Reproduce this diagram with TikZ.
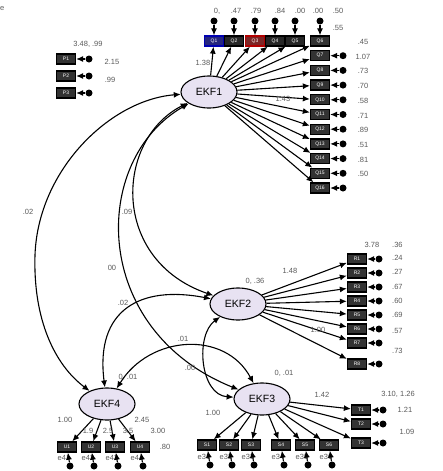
\documentclass[tikz,border=0pt]{standalone}
\usepackage{fontspec}
\setmainfont{Liberation Sans}
\usetikzlibrary{shapes.geometric,arrows.meta}
\definecolor{latentfill}{RGB}{232,226,242}
\definecolor{labgray}{RGB}{90,90,90}

\begin{document}
\begin{tikzpicture}[x=1pt,y=-1pt,
  latent/.style={ellipse,draw,line width=1.1pt,fill=latentfill,minimum width=56pt,minimum height=32pt,inner sep=0pt,font=\fontsize{10.5}{11}\selectfont},
  obs/.style={draw,line width=1.3pt,fill=black!80,text=white,minimum width=19pt,minimum height=10pt,inner sep=0pt,font=\fontsize{5}{5}\selectfont},
  err/.style={circle,fill=black,minimum size=7pt,inner sep=0pt},
  lab/.style={text=labgray,font=\fontsize{7.5}{8}\selectfont,inner sep=0pt},
  arr/.style={-{Latex[length=7pt,width=6pt]},line width=1.1pt},
  cov/.style={{Latex[length=7pt,width=6pt]}-{Latex[length=7pt,width=6pt]},line width=1.1pt}]

  \useasboundingbox (0,0) rectangle (442,471);
  \node[lab,anchor=west] (cut) at (0,9) {e};

  % latent factors
  \node[latent] (f1) at (209,92) {EKF1};
  \node[latent] (f2) at (238,304) {EKF2};
  \node[latent] (f3) at (262,399) {EKF3};
  \node[latent] (f4) at (107,404) {EKF4};

  % EKF1 indicators, top row
  \foreach \n/\x/\c in {1/214/blue,2/234/black,3/255/red,4/275/black,5/295/black} {
    \node[obs,draw=\c!70!black,fill=\c!40!black!85] (a\n) at (\x,41) {Q\n};
    \node[err] (ea\n) at (\x,21) {};
    \draw[arr] (f1) -- (a\n);
    \draw[arr] (ea\n) -- (a\n);
  }
  % EKF1 indicators, right column
  \foreach \n [evaluate=\n as \q using int(\n+6)] in {0,...,10} {
    \node[obs] (b\n) at (320,41+14.7*\n) {Q\q};
    \draw[arr] (f1) -- (b\n);
  }
  \node[err] (eb0) at (320,21) {};
  \draw[arr] (eb0) -- (b0);
  \foreach \n in {1,...,10} {
    \node[err] (eb\n) at (343,41+14.7*\n) {};
    \draw[arr] (eb\n) -- (b\n);
  }
  \foreach \x/\v in {217/{0,},236/.47,256/.79,280/.84,300/.00,318/.00,338/.50}
    \node[lab] at (\x,11) {\v};
  \node[lab] at (338,28) {.55};
  \foreach \v [count=\k from 0] in {.45,1.07,.73,.70,.58,.71,.89,.51,.81,.50}
    \node[lab] at (363,42+14.7*\k) {\v};
  \node[lab] at (203,63) {1.38};
  \node[lab] at (283,99) {1.43};

  % EKF2 indicators
  \foreach \n/\y in {1/259,2/273,3/287,4/301,5/315,6/329,7/343,8/364} {
    \node[obs] (c\n) at (357,\y) {R\n};
    \node[err] (ec\n) at (379,\y) {};
    \draw[arr] (f2) -- (c\n);
    \draw[arr] (ec\n) -- (c\n);
  }
  \foreach \v/\y in {.36/245,.24/258,.27/272,.67/287,.60/301,.69/315,.57/331,.73/351}
    \node[lab,anchor=west] at (392,\y) {\v};
  \node[lab] at (372,245) {3.78};
  \node[lab] at (255,281) {0, .36};
  \node[lab] at (290,271) {1.48};
  \node[lab] at (318,330) {1.00};

  % EKF3 indicators
  \foreach \n/\x in {1/207,2/229,3/251,4/281,5/305,6/329} {
    \node[obs] (d\n) at (\x,445) {S\n};
    \node[err] (ed\n) at (\x+3,465) {};
    \node[lab] at (\x-3,457) {e3\n};
    \draw[arr] (f3) -- (d\n);
    \draw[arr] (ed\n) -- (d\n);
  }
  \foreach \n/\y in {1/410,2/424,3/443} {
    \node[obs] (g\n) at (361,\y) {T\n};
    \node[err] (eg\n) at (383,\y) {};
    \draw[arr] (f3) -- (g\n);
    \draw[arr] (eg\n) -- (g\n);
  }
  \node[lab] at (284,373) {0, .01};
  \node[lab] at (322,395) {1.42};
  \node[lab] at (213,413) {1.00};
  \node[lab] at (398,394) {3.10, 1.26};
  \node[lab] at (405,410) {1.21};
  \node[lab] at (407,432) {1.09};

  % EKF4 indicators
  \foreach \n/\x in {1/67,2/91,3/115,4/140} {
    \node[obs] (h\n) at (\x,447) {U\n};
    \node[err] (eh\n) at (\x+3,466) {};
    \node[lab] at (\x-3,458) {e4\n};
    \draw[arr] (f4) -- (h\n);
    \draw[arr] (eh\n) -- (h\n);
  }
  \node[lab] at (128,377) {0, .01};
  \node[lab] at (65,420) {1.00};
  \node[lab] at (88,431) {1.9};
  \node[lab] at (108,431) {2.5};
  \node[lab] at (128,431) {3.5};
  \node[lab] at (142,420) {2.45};
  \node[lab] at (158,431) {3.00};
  \node[lab] at (165,447) {.80};

  % left cluster
  \foreach \n/\y in {1/59,2/76,3/93} {
    \node[obs] (k\n) at (66,\y) {P\n};
    \node[err] (ek\n) at (89,\y) {};
    \draw[arr] (ek\n) -- (k\n);
  }
  \node[lab] at (88,44) {3.48, .99};
  \node[lab] at (112,62) {2.15};
  \node[lab] at (110,80) {.99};

  % covariances
  \draw[cov] (f1) .. controls (110,100) and (38,170) .. (35,255) .. controls (33,320) and (55,365) .. (f4);
  \draw[cov] (f1) .. controls (115,140) and (110,260) .. (f2);
  \draw[cov] (f1) .. controls (90,160) and (90,330) .. (f3);
  \draw[cov] (f2) .. controls (140,285) and (95,310) .. (f4);
  \draw[cov] (f4) .. controls (150,335) and (225,330) .. (f3);
  \draw[cov] (f2) .. controls (195,335) and (200,395) .. (f3);
  \node[lab] at (28,212) {.02};
  \node[lab] at (127,212) {.09};
  \node[lab] at (112,268) {00};
  \node[lab] at (123,303) {.02};
  \node[lab] at (183,339) {.01};
  \node[lab] at (190,368) {.00};
\end{tikzpicture}
\end{document}
